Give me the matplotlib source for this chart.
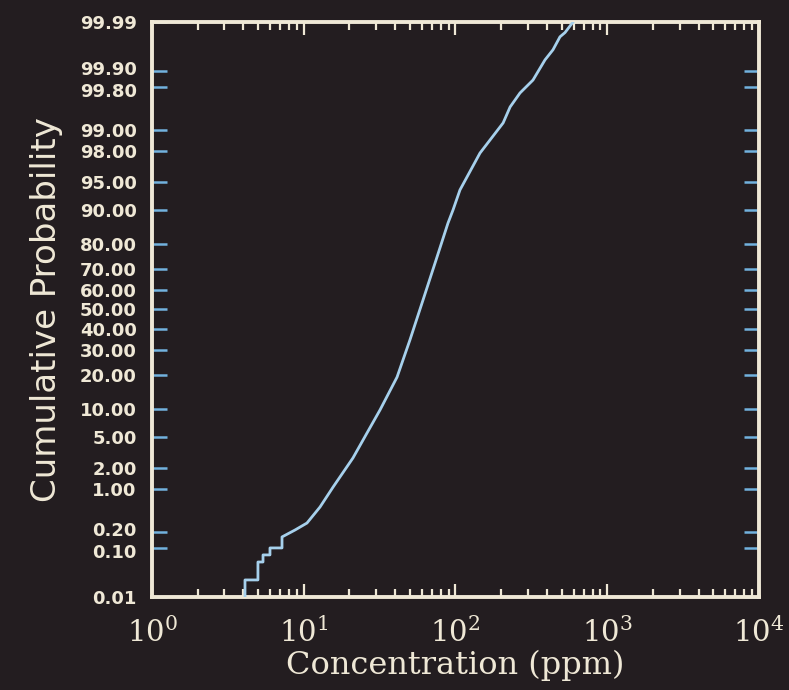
## imports

import math
import numpy as np
import matplotlib
matplotlib.use('Agg')
import matplotlib.pyplot as plt
from matplotlib.ticker import FixedLocator, FuncFormatter, LogLocator, NullLocator
from matplotlib.transforms import ScaledTranslation

## data

conc_ppm = [4.1, 4.1, 4.99, 4.99, 5.39, 5.39, 5.99, 5.99, 7.19, 7.19,
            8.76, 10.5, 12.8, 15.6, 21.1, 26.1, 31.8, 41.2, 50.1, 61.1,
            75.5, 89.2, 96.3, 107, 145, 206, 229, 266, 324, 389,
            439, 488, 527, 595]
cum_prob = [0.01, 0.0234, 0.0234, 0.0545, 0.0545, 0.075, 0.075, 0.102, 0.102, 0.163,
            0.217, 0.287, 0.531, 1.08, 2.74, 5.5, 9.68, 19.1, 34.7, 54.9,
            75.1, 86.8, 90.1, 93.9, 97.85, 99.21, 99.56, 99.745, 99.85, 99.938,
            99.961, 99.979, 99.983, 99.99]

prob_ticks = [0.01, 0.10, 0.20, 1.00, 2.00, 5.00, 10.00, 20.00, 30.00, 40.00,
              50.00, 60.00, 70.00, 80.00, 90.00, 95.00, 98.00, 99.00, 99.80,
              99.90, 99.99]
decades = [0, 1, 2, 3, 4]

## colours

bg     = '#231d20'
frame  = '#efe8d6'
tick_y = '#72b2de'
curve  = '#a6d0ec'

## probit scale (percent <-> normal quantile), Acklam approximation

a = [-3.969683028665376e+01, 2.209460984245205e+02, -2.759285104469687e+02,
     1.383577518672690e+02, -3.066479806614716e+01, 2.506628277459239e+00]
b = [-5.447609879822406e+01, 1.615858368580409e+02, -1.556989798598866e+02,
     6.680131188771972e+01, -1.328068155288572e+01]
c = [-7.784894002430293e-03, -3.223964580411365e-01, -2.400758099337264e+00,
     -2.549732539343734e+00, 4.374664141464968e+00, 2.938163982698783e+00]
d = [7.784695709041462e-03, 3.224671290700398e-01, 2.445134137142996e+00,
     3.754408661907416e+00]


def probit(pct):
    p = np.clip(np.asarray(pct, dtype=float) / 100.0, 1e-12, 1 - 1e-12)
    plow = 0.02425
    q = p - 0.5
    r = q * q
    central = ((((((a[0]*r + a[1])*r + a[2])*r + a[3])*r + a[4])*r + a[5]) * q /
               (((((b[0]*r + b[1])*r + b[2])*r + b[3])*r + b[4])*r + 1))
    ql = np.sqrt(-2 * np.log(p))
    lower = ((((((c[0]*ql + c[1])*ql + c[2])*ql + c[3])*ql + c[4])*ql + c[5]) /
             ((((d[0]*ql + d[1])*ql + d[2])*ql + d[3])*ql + 1))
    qu = np.sqrt(-2 * np.log(1 - p))
    upper = -((((((c[0]*qu + c[1])*qu + c[2])*qu + c[3])*qu + c[4])*qu + c[5]) /
              ((((d[0]*qu + d[1])*qu + d[2])*qu + d[3])*qu + 1))
    return np.where(p < plow, lower, np.where(p > 1 - plow, upper, central))


erf_vec = np.vectorize(math.erf)


def inv_probit(z):
    z = np.asarray(z, dtype=float)
    return 100.0 * 0.5 * (1 + erf_vec(z / math.sqrt(2)))

## plotting

plt.rcParams['mathtext.fontset'] = 'dejavuserif'

fig = plt.figure(figsize=(7.89, 6.90), dpi=100, facecolor=bg)
ax = fig.add_axes([152 / 789, 1 - 597 / 690, 607 / 789, 575 / 690], facecolor=bg)

ax.plot(conc_ppm, cum_prob, color=curve, lw=2.0, zorder=3)

ax.set_xscale('log')
ax.set_yscale('function', functions=(probit, inv_probit))
ax.set_xlim(10 ** decades[0], 10 ** decades[-1])
ax.set_ylim(prob_ticks[0], prob_ticks[-1])

# x axis: decades with 2..9 minors, ticks inward on top and bottom
ax.xaxis.set_major_locator(FixedLocator([10 ** k for k in decades]))
ax.xaxis.set_major_formatter(FuncFormatter(lambda v, pos: r'$10^{%d}$' % round(math.log10(v))))
ax.xaxis.set_minor_locator(LogLocator(base=10, subs=np.arange(2, 10)))
ax.tick_params(axis='x', which='major', direction='in', length=9.5, width=1.6,
               color=frame, top=True, bottom=True, pad=15,
               labelsize=21, labelcolor=frame)
ax.tick_params(axis='x', which='minor', direction='in', length=6, width=1.6,
               color=frame, top=True, bottom=True)

# y axis: probability ticks
ax.yaxis.set_major_locator(FixedLocator(prob_ticks))
ax.yaxis.set_major_formatter(FuncFormatter(lambda v, pos: '%.2f' % v))
ax.yaxis.set_minor_locator(NullLocator())
ax.tick_params(axis='y', which='major', direction='in', length=11, width=1.8,
               color=tick_y, left=True, right=True, pad=11,
               labelsize=13, labelcolor=frame)

for sp in ax.spines.values():
    sp.set_color(frame)
    sp.set_linewidth(2.8)

ax.set_xlabel('Concentration (ppm)', fontsize=23, color=frame,
              family='DejaVu Serif', labelpad=1)
ax.set_ylabel('Cumulative Probability', fontsize=24.5, color=frame, labelpad=12)

# bold labels, nudge the crowded pairs apart a little
fig.canvas.draw()
nudge = {'99.90': 2.5, '99.80': -2.5, '0.20': 2.5, '0.10': -2.5}
for lab in ax.get_yticklabels():
    lab.set_fontweight('bold')
    dy = nudge.get(lab.get_text(), 0)
    if dy:
        lab.set_transform(lab.get_transform() + ScaledTranslation(0, dy / 100, fig.dpi_scale_trans))

fig.savefig('out.png', dpi=100, facecolor=bg)
